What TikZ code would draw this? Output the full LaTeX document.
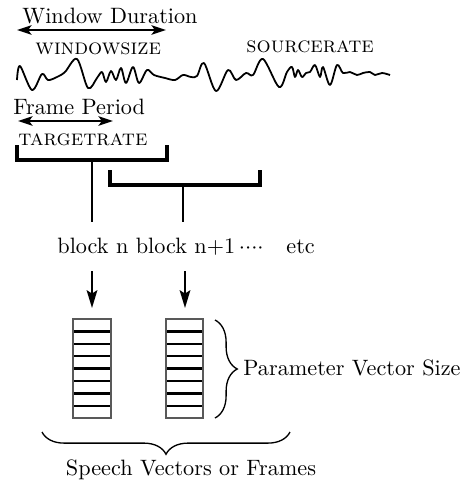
\documentclass[tikz,border=0pt]{standalone}
\usetikzlibrary{arrows.meta,decorations.pathreplacing}
\begin{document}
\begin{tikzpicture}[x=0.45pt,y=-0.45pt,
  lbl/.style={inner sep=0pt,anchor=west,font=\fontsize{10}{12}\selectfont},
  dbl/.style={line width=1.1pt,{Stealth[length=6.5pt,width=4.2pt,inset=1.5pt]}-{Stealth[length=6.5pt,width=4.2pt,inset=1.5pt]}},
  bracketline/.style={line width=1.4pt},
  stem/.style={line width=0.9pt},
  downarrow/.style={line width=0.9pt,-{Stealth[length=8pt,width=4.8pt,inset=1.5pt]}},
  cellbox/.style={draw=black!65,line width=0.5pt},
  cellline/.style={line width=1.1pt},
  bracedeco/.style={decorate,decoration={brace,amplitude=10pt},line width=0.6pt}]
\useasboundingbox (0,0) rectangle (464,482);
% texts
\node[lbl] (wd) at (22,16) {Window Duration};
\node[lbl] (ws) at (35,49) {\textsc{windowsize}};
\node[lbl] (sr) at (246,47) {\textsc{sourcerate}};
\node[lbl] (fp) at (13,107) {Frame Period};
\node[lbl] (tr) at (18,140) {\textsc{targetrate}};
\node[lbl] (blk) at (57,247) {block n block n+1$\,\cdotp\!\cdotp\!\cdotp\!\cdotp$};
\node[lbl] (etc) at (286,247) {etc};
\node[lbl] (pvs) at (243,368) {Parameter Vector Size};
\node[lbl,anchor=center] (svf) at (191,470) {Speech Vectors or Frames};
% double arrows
\coordinate (wdL) at (17,30); \coordinate (wdR) at (166,30);
\draw[dbl] (wdL) -- (wdR);
\coordinate (fpL) at (18,121); \coordinate (fpR) at (113,121);
\draw[dbl] (fpL) -- (fpR);
% waveform
\draw[line width=0.8pt,line join=round] plot[smooth,tension=0.55] coordinates {
 (17,80) (20,66) (32,90) (42,74) (48,80) (57,77) (65,72) (77,59) (88,88)
 (97,78) (102,72) (106,82) (111,71) (116,80) (121,68) (126,83) (133,67)
 (139,83) (147,70) (154,75) (165,78) (175,80) (183,75) (191,77) (197,76)
 (204,63) (216,91) (228,70) (236,80) (246,73) (253,75) (263,59) (279,87)
 (287,72) (292,67) (295,77) (298,70) (302,77) (306,73) (310,72) (315,65)
 (320,77) (323,67) (330,85) (337,65) (343,73) (350,72) (357,75) (363,73)
 (370,72) (375,75) (382,73) (390,75)};
% brackets
\coordinate (b1a) at (17,145); \coordinate (b1b) at (17,160);
\coordinate (b1c) at (167,160); \coordinate (b1d) at (167,145);
\draw[bracketline] (b1a) -- (b1b) -- (b1c) -- (b1d);
\coordinate (b2a) at (110,170); \coordinate (b2b) at (110,185);
\coordinate (b2c) at (260,185); \coordinate (b2d) at (260,170);
\draw[bracketline] (b2a) -- (b2b) -- (b2c) -- (b2d);
% stems
\coordinate (s1t) at (92,160); \coordinate (s1b) at (92,222);
\coordinate (s2t) at (183,185); \coordinate (s2b) at (183,222);
\draw[stem] (s1t) -- (s1b);
\draw[stem] (s2t) -- (s2b);
% arrows down
\coordinate (a1t) at (92,271); \coordinate (a1b) at (92,308);
\coordinate (a2t) at (185,271); \coordinate (a2b) at (185,308);
\draw[downarrow] (a1t) -- (a1b);
\draw[downarrow] (a2t) -- (a2b);
% vector boxes
\foreach \xl/\xr/\nm in {73/111/v1,166/203/v2}{
  \foreach \k in {1,...,7}{
    \draw[cellline] (\xl,{319+\k*12.4}) -- (\xr,{319+\k*12.4});
  }
  \draw[cellbox] (\xl,319) rectangle (\xr,418);
  \coordinate (\nm) at (\xr,319);
}
% braces
\coordinate (brT) at (215,320); \coordinate (brB) at (215,418);
\draw[bracedeco] (brT) -- (brB);
\coordinate (bbR) at (290,432); \coordinate (bbL) at (42,432);
\draw[bracedeco] (bbR) -- (bbL);
\end{tikzpicture}
\end{document}
